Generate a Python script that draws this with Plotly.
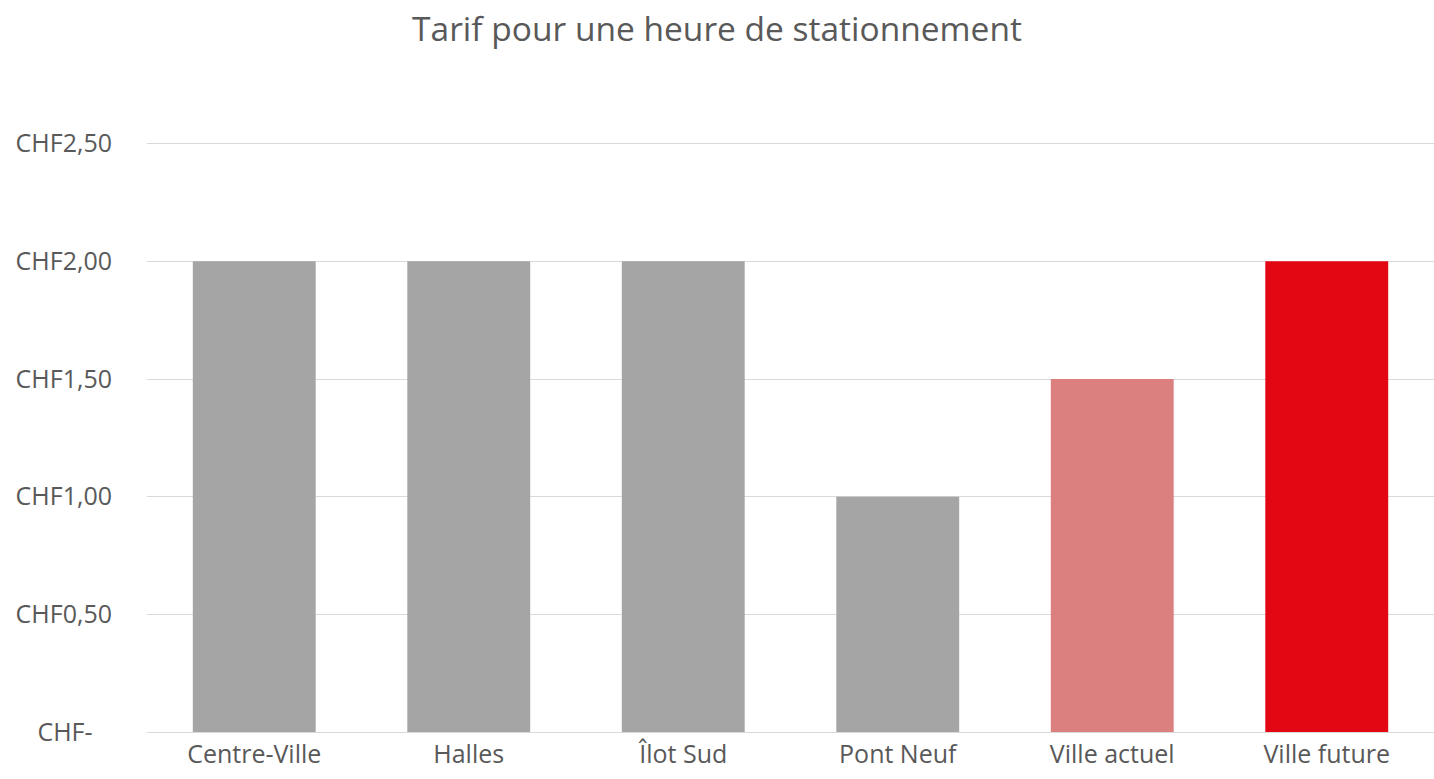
import plotly.graph_objects as go

# data
lieux = ["Centre-Ville", "Halles", "Îlot Sud", "Pont Neuf", "Ville actuel", "Ville future"]
tarifs = [2.00, 2.00, 2.00, 1.00, 1.50, 2.00]
couleurs = ["#A5A5A5", "#A5A5A5", "#A5A5A5", "#A5A5A5", "#DC807F", "#E30613"]

tick_vals = [0, 0.5, 1.0, 1.5, 2.0, 2.5]
tick_text = ["CHF-\u00a0\u00a0\u00a0", "CHF0,50", "CHF1,00", "CHF1,50", "CHF2,00", "CHF2,50"]

font_nom = "Open Sans, Lato, sans-serif"

fig = go.Figure()
fig.add_trace(go.Bar(
    x=lieux,
    y=tarifs,
    marker=dict(color=couleurs, line=dict(width=0)),
    hoverinfo="x+y",
))

fig.update_layout(
    width=1434,
    height=779,
    paper_bgcolor="white",
    plot_bgcolor="white",
    margin=dict(l=147, r=0, t=139, b=47),
    bargap=0.427,
    showlegend=False,
    title=dict(
        text="Tarif pour une heure de stationnement",
        x=0.5, xanchor="center",
        y=0.962, yanchor="middle",
        font=dict(family=font_nom, size=33.5, color="#595959"),
    ),
    font=dict(family=font_nom, size=25, color="#595959"),
)

# range a little above 2.5 so the top gridline is drawn
fig.update_yaxes(
    range=[0, 2.52],
    tickvals=tick_vals,
    ticktext=tick_text,
    showgrid=True,
    gridcolor="#D9D9D9",
    gridwidth=1,
    zeroline=False,
    showline=False,
    ticks="",
    ticklabelstandoff=34,
    tickfont=dict(size=25, color="#595959"),
)
fig.update_xaxes(
    showline=True,
    linecolor="#D9D9D9",
    linewidth=1,
    ticks="",
    tickfont=dict(size=25, color="#595959"),
)

# drop the default body margin so the figure fills the window exactly
fig.write_html(
    "out.html",
    config={"displayModeBar": False},
    post_script="document.body.style.margin='0';",
)
